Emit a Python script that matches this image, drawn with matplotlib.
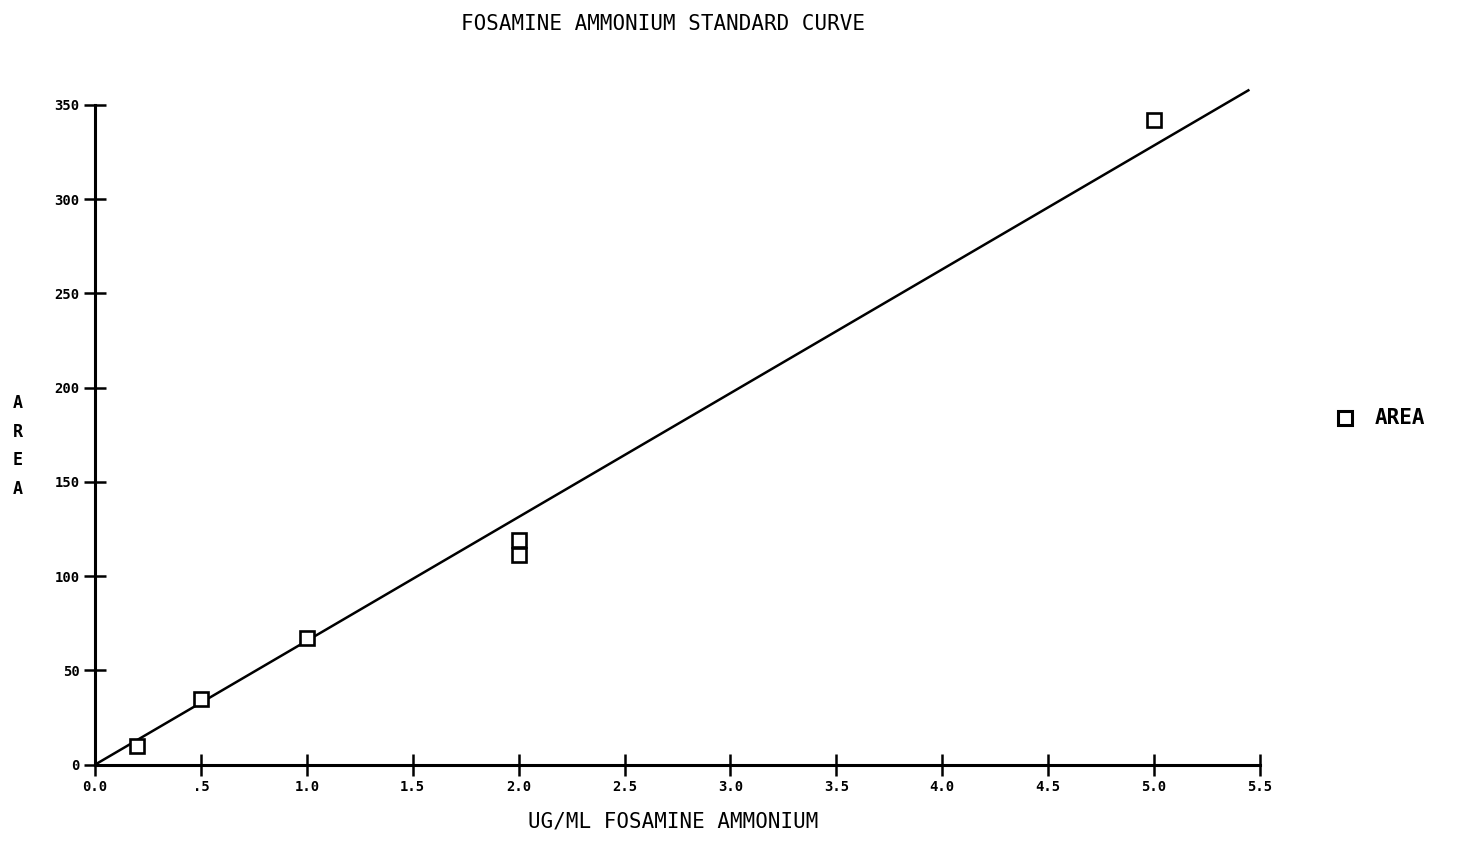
#!/usr/bin/env python3
"""Fosamine ammonium standard curve (plotter style)."""

import matplotlib
matplotlib.use("Agg")
import matplotlib.pyplot as plt

# measured standards (ug/ml vs peak area)
conc = [0.2, 0.5, 1.0, 2.0, 2.0, 5.0]
area = [10, 35, 67, 119, 111, 342]

# drawn calibration line endpoints
fit_x = [0.0, 5.45]
fit_y = [0.0, 358.0]

x_ticks = [0.0, 0.5, 1.0, 1.5, 2.0, 2.5, 3.0, 3.5, 4.0, 4.5, 5.0, 5.5]
x_tick_labels = ["0.0", ".5", "1.0", "1.5", "2.0", "2.5", "3.0",
                 "3.5", "4.0", "4.5", "5.0", "5.5"]
y_ticks = [0, 50, 100, 150, 200, 250, 300, 350]

FONT = "DejaVu Sans Mono"

fig = plt.figure(figsize=(14.66, 8.66), dpi=100)
ax = fig.add_axes([0.0648, 0.117, 0.7947, 0.762])

ax.plot(fit_x, fit_y, color="black", linewidth=1.8, solid_capstyle="butt",
        clip_on=False)
ax.plot(conc, area, linestyle="none", marker="s", markersize=10.5,
        markerfacecolor="white", markeredgecolor="black", markeredgewidth=1.9,
        clip_on=False, zorder=3)

ax.set_xlim(0, 5.5)
ax.set_ylim(0, 350)
ax.set_xticks(x_ticks)
ax.set_xticklabels(x_tick_labels)
ax.set_yticks(y_ticks)

for side in ("top", "right"):
    ax.spines[side].set_visible(False)
for side in ("left", "bottom"):
    ax.spines[side].set_linewidth(2.2)

ax.tick_params(direction="inout", length=16, width=1.8, pad=3,
               labelsize=10)
for lbl in ax.get_xticklabels() + ax.get_yticklabels():
    lbl.set_fontfamily(FONT)
    lbl.set_fontweight("bold")

fig.text(0.452, 0.972, "FOSAMINE AMMONIUM STANDARD CURVE", ha="center",
         va="center", fontsize=15, family=FONT)
fig.text(0.459, 0.051, "UG/ML FOSAMINE AMMONIUM", ha="center",
         va="center", fontsize=15, family=FONT)
fig.text(0.012, 0.485, "A\nR\nE\nA", ha="center", va="center",
         fontsize=12, family=FONT, fontweight="bold", linespacing=1.75)

# legend drawn by hand in figure coords, like the plotter output
fig.lines.append(plt.Line2D([1345 / 1466], [1 - 418 / 866],
                            transform=fig.transFigure, linestyle="none",
                            marker="s", markersize=10.5,
                            markerfacecolor="white", markeredgecolor="black",
                            markeredgewidth=2.2))
fig.text(1375 / 1466, 1 - 418 / 866, "AREA", ha="left", va="center",
         fontsize=15, family=FONT, fontweight="bold")

plt.savefig("out.png", dpi=100)
print("Saved: out.png")
